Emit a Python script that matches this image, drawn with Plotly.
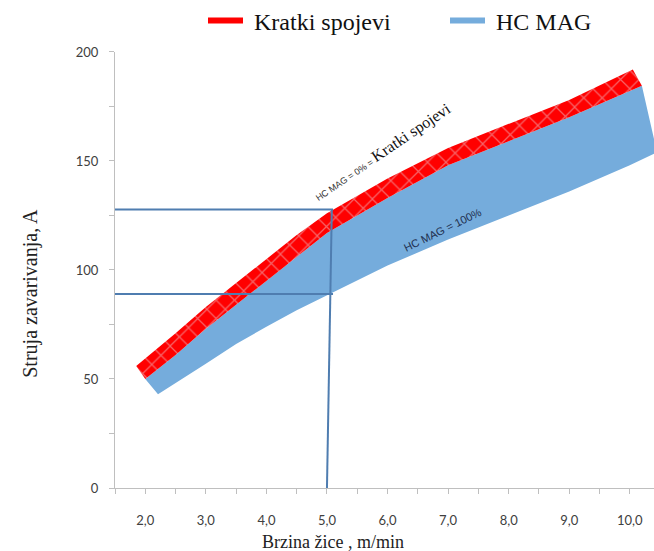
import plotly.graph_objects as go

# ---- data ----
# Kratki spojevi band (red, hatched): upper edge and lower edge
red_top_x = [1.85, 2.5, 3.0, 3.5, 4.0, 4.5, 5.0, 5.5, 6.0, 7.0, 8.0, 9.0, 10.05]
red_top_y = [56, 71, 83, 94, 105, 116, 126, 134, 142, 156, 167, 178, 192]
red_bot_x = [2.0, 2.5, 3.0, 3.5, 4.0, 4.5, 5.0, 5.5, 6.0, 7.0, 8.0, 9.0, 10.2]
red_bot_y = [50, 61, 73, 84, 95, 106, 117, 125, 133, 148, 159, 170, 184.5]
# HC MAG band (blue): lower edge (upper edge = red lower edge)
blue_bot_x = [2.21, 3.0, 3.5, 4.0, 4.5, 5.0, 6.0, 7.0, 8.0, 9.0, 10.0, 10.45]
blue_bot_y = [43, 57, 66, 74, 81.5, 88.5, 102, 114, 125, 136, 148, 154]

# guide lines
guide_h_x = [1.5, 5.1]
guide_h1_y = [127.7, 127.7]
guide_h2_y = [89, 89]
guide_v_x = [5.0, 5.08]
guide_v_y = [0, 127.7]

x_tickvals = [2, 3, 4, 5, 6, 7, 8, 9, 10]
x_ticktext = ["2,0", "3,0", "4,0", "5,0", "6,0", "7,0", "8,0", "9,0", "10,0"]
x_minor = [1.5, 2.5, 3.5, 4.5, 5.5, 6.5, 7.5, 8.5, 9.5]
y_tickvals = [0, 50, 100, 150, 200]
y_minor = [25, 75, 125, 175]

series_names = ["Kratki spojevi", "HC MAG"]
RED = "#ff0000"
BLUE = "#75acdc"
GUIDE = "#4f7db0"
SERIF = "Liberation Serif, Times New Roman, serif"

W, H = 654, 551
L, R, T, B = 115, 0, 48, 63
pw, ph = W - L - R, H - T - B

fig = go.Figure()

# blue band polygon
bx = red_bot_x + blue_bot_x[::-1]
by = red_bot_y + blue_bot_y[::-1]
fig.add_trace(go.Scatter(x=bx, y=by, fill="toself", fillcolor=BLUE, mode="lines",
                         line=dict(width=0, color=BLUE), showlegend=False, hoverinfo="skip"))
# red band polygon
rx = red_top_x + red_bot_x[::-1]
ry = red_top_y + red_bot_y[::-1]
fig.add_trace(go.Scatter(x=rx, y=ry, fill="toself", fillcolor=RED, mode="lines",
                         line=dict(width=0, color=RED), showlegend=False, hoverinfo="skip",
                         fillpattern=dict(shape="x", bgcolor=RED, fgcolor="#ecc8d0",
                                          size=13, solidity=0.18)))

# guide lines
for gx, gy in [(guide_h_x, guide_h1_y), (guide_h_x, guide_h2_y), (guide_v_x, guide_v_y)]:
    fig.add_trace(go.Scatter(x=gx, y=gy, mode="lines", line=dict(color=GUIDE, width=2),
                             showlegend=False, hoverinfo="skip"))

# legend entries (two separate legends to place them precisely)
fig.add_trace(go.Scatter(x=[None], y=[None], mode="lines", name=" " + series_names[0],
                         line=dict(color=RED, width=6), legend="legend"))
fig.add_trace(go.Scatter(x=[None], y=[None], mode="lines", name=" " + series_names[1],
                         line=dict(color=BLUE, width=6), legend="legend2"))

fig.add_annotation(x=5.92, y=154, xref="x", yref="y", textangle=-34, showarrow=False,
                   xanchor="center", yanchor="middle",
                   text="<span style='font-family:Liberation Sans;font-size:9px;color:#333'>HC MAG = 0% = </span>"
                        "<span style='font-family:Liberation Serif;font-size:16px'>Kratki spojevi</span>",
                   font=dict(color="#111"))
fig.add_annotation(x=6.9, y=118.5, xref="x", yref="y", textangle=-26, showarrow=False,
                   xanchor="center", yanchor="middle",
                   text="HC MAG = 100%", font=dict(family="Liberation Sans", size=11, color="#1f3050"))

def px_to_paper(px, py):
    return (px - L) / pw, (H - B - py) / ph

ax_, ay_ = px_to_paper(333, 542)
fig.add_annotation(x=ax_, y=ay_, xref="paper", yref="paper", xanchor="center", yanchor="middle",
                   text="Brzina žice , m/min", showarrow=False,
                   font=dict(family=SERIF, size=18, color="#222"))
bx_, by_ = px_to_paper(31, 292)
fig.add_annotation(x=bx_, y=by_, text="Struja zavarivanja, A", textangle=-90, showarrow=False,
                   xref="paper", yref="paper", xanchor="center", yanchor="middle",
                   font=dict(family=SERIF, size=20, color="#222"))

leg_common = dict(orientation="h", xref="container", yref="container", xanchor="left",
                  yanchor="middle", y=1 - 21 / H,
                  font=dict(family=SERIF, size=24, color="#111"),
                  itemwidth=35, bgcolor="rgba(0,0,0,0)")

fig.update_layout(
    width=W, height=H,
    margin=dict(l=L, r=R, t=T, b=B),
    paper_bgcolor="white", plot_bgcolor="white",
    showlegend=True,
    legend=dict(x=203 / W, **leg_common),
    legend2=dict(x=445 / W, **leg_common),
    xaxis=dict(range=[1.5, 10.4], tickmode="array", tickvals=x_tickvals, ticktext=x_ticktext,
               showgrid=False, zeroline=False, showline=True, linecolor="#bfbfbf", linewidth=1,
               ticks="outside", ticklen=5, tickcolor="#bfbfbf", ticklabelstandoff=15,
               tickfont=dict(family="Lato", size=13, color="#404040"),
               minor=dict(tickmode="array", tickvals=x_minor, ticks="outside", ticklen=5,
                          tickcolor="#bfbfbf", showgrid=False)),
    yaxis=dict(range=[0, 200], tickmode="array", tickvals=y_tickvals,
               showgrid=False, zeroline=False, showline=True, linecolor="#bfbfbf", linewidth=1,
               ticks="outside", ticklen=5, tickcolor="#bfbfbf", ticklabelstandoff=8,
               tickfont=dict(family="Lato", size=13, color="#404040"),
               minor=dict(tickmode="array", tickvals=y_minor, ticks="outside", ticklen=5,
                          tickcolor="#bfbfbf", showgrid=False)),
)

fig.write_html("out.html", config={"displayModeBar": False},
               post_script="document.body.style.margin='0';document.body.style.padding='0';"
                           "document.body.style.overflow='hidden';")
